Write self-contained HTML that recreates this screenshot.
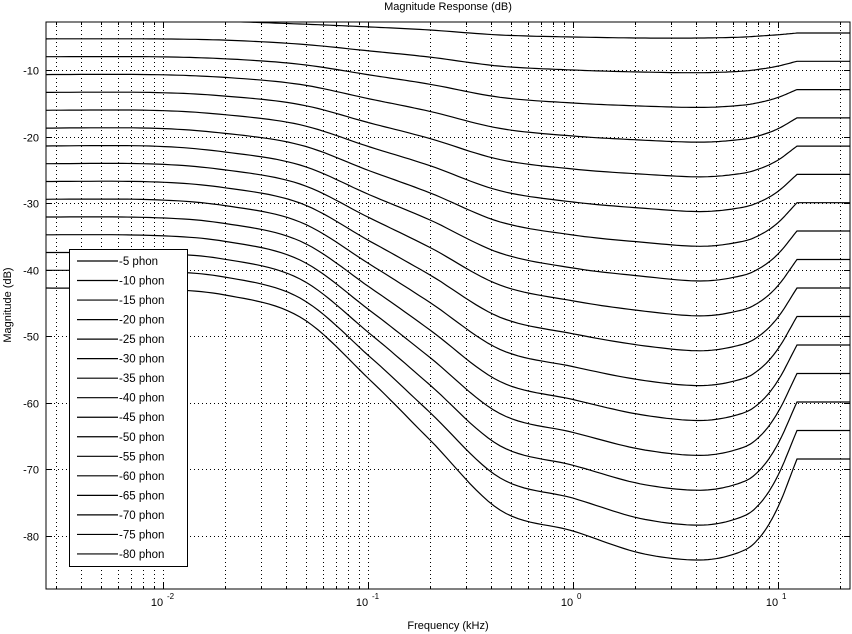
<!DOCTYPE html>
<html><head><meta charset="utf-8"><style>
html,body{margin:0;padding:0;background:#fff;}
svg{display:block;font-family:"Liberation Sans",sans-serif;}
</style></head><body>
<svg id="s" width="852" height="634" viewBox="0 0 852 634" xmlns="http://www.w3.org/2000/svg">
<rect width="852" height="634" fill="#fff"/>
<defs><clipPath id="cp"><rect x="46" y="22" width="804" height="567"/></clipPath></defs>
<g id="grid" stroke="#000" stroke-width="1" stroke-dasharray="1,3" fill="none"></g>
<g id="curves" clip-path="url(#cp)" stroke="#000" stroke-width="1.2" fill="none"></g>
<g id="ticks" stroke="#000" stroke-width="1" fill="none"></g>
<rect x="46" y="22" width="804" height="567" fill="none" stroke="#000" stroke-width="1"/>
<g id="labels" font-size="11" fill="#000"></g>
<text x="448" y="10" font-size="11" text-anchor="middle">Magnitude Response (dB)</text>
<text x="448" y="629" font-size="11" text-anchor="middle">Frequency (kHz)</text>
<text transform="translate(11,305) rotate(-90)" font-size="11" text-anchor="middle">Magnitude (dB)</text>
<g id="legend"></g>
</svg>
<script>
(function(){
var NS="http://www.w3.org/2000/svg";
function el(t,a,p){var e=document.createElementNS(NS,t);for(var k in a)e.setAttribute(k,a[k]);p.appendChild(e);return e;}
var L=46,R=850,T=22,B=589;
function X(fk){return 573+205*Math.log10(fk);}
function Y(v){return 70+(-10-v)*6.657;}
var grid=document.getElementById('grid'),ticks=document.getElementById('ticks'),labels=document.getElementById('labels');
for(var d=-3;d<=1;d++){for(var m=1;m<=9;m++){var f=m*Math.pow(10,d);var x=X(f);if(x<=L+0.5||x>=R-0.5)continue;x=Math.round(x)+0.5;
el('line',{x1:x,y1:T,x2:x,y2:B},grid);var tl=(m==1)?6:3;
el('line',{x1:x,y1:B,x2:x,y2:B-tl},ticks);el('line',{x1:x,y1:T,x2:x,y2:T+tl},ticks);}}
[[-2,163],[-1,368],[0,573],[1,778]].forEach(function(p){
var t=el('text',{x:p[1]-6,y:606,'text-anchor':'middle'},labels);t.textContent='10';
var s=el('text',{x:p[1]+4,y:599,'font-size':'8'},labels);s.textContent=String(p[0]);});
for(var v=-10;v>=-80;v-=10){var y=Math.round(Y(v))+0.5;el('line',{x1:L,y1:y,x2:R,y2:y},grid);
el('line',{x1:L,y1:y,x2:L+6,y2:y},ticks);el('line',{x1:R,y1:y,x2:R-6,y2:y},ticks);
var t=el('text',{x:39,y:y+4,'text-anchor':'end'},labels);t.textContent=String(v);}
var KX=[40,150,225,300,370,430,500,573,640,700,740,760,778,797];
var C1=[21,21,21.5,24,27,30,35,37,38,38,37.2,36,34.8,33];
var C8=[146,146,152,165,195,220,253,268,276,281,276,268,254,231];
var C16=[288,289,295,317,380,440,510,531,553,560,552,537,507,459];
var cg=document.getElementById('curves');
for(var c=1;c<=16;c++){
var ys=[];for(var i=0;i<KX.length;i++){var y;
if(c<=8){var t=(c-1)/7;y=C1[i]+(C8[i]-C1[i])*t;}else{var t=(c-8)/8;y=C8[i]+(C16[i]-C8[i])*t;}ys.push(y);}
var n=KX.length,pts=[[KX[0],ys[0]]];
var kx=KX.slice(),ky=ys.slice();
// extrapolated ghost end point to keep the end slope steep (corner at 797)
kx.push(2*KX[n-1]-KX[n-2]);ky.push(2*ys[n-1]-ys[n-2]);
for(var i=0;i<n-1;i++){var i0=Math.max(0,i-1),i3=i+2;
for(var k=1;k<=12;k++){var t=k/12,t2=t*t,t3=t2*t;
var cr=function(a){return 0.5*((2*a[i])+(-a[i0]+a[i+1])*t+(2*a[i0]-5*a[i]+4*a[i+1]-a[i3])*t2+(-a[i0]+3*a[i]-3*a[i+1]+a[i3])*t3);};
pts.push([cr(kx),cr(ky)]);}}
pts.push([856,ys[n-1]]);
el('path',{d:'M'+pts.map(function(p){return p[0].toFixed(1)+','+p[1].toFixed(1);}).join('L')},cg);}
var lg=document.getElementById('legend');
el('rect',{x:69.5,y:249.5,width:118,height:317,fill:'#fff',stroke:'#000','stroke-width':1},lg);
for(var j=0;j<16;j++){var y=261+j*19.53;
el('line',{x1:77,y1:y,x2:118,y2:y,stroke:'#000','stroke-width':1.2},lg);
var t=el('text',{x:119,y:y+4,'font-size':'11.5',fill:'#000'},lg);t.textContent='-'+(5*(j+1))+' phon';}
})();
</script>
</body></html>
